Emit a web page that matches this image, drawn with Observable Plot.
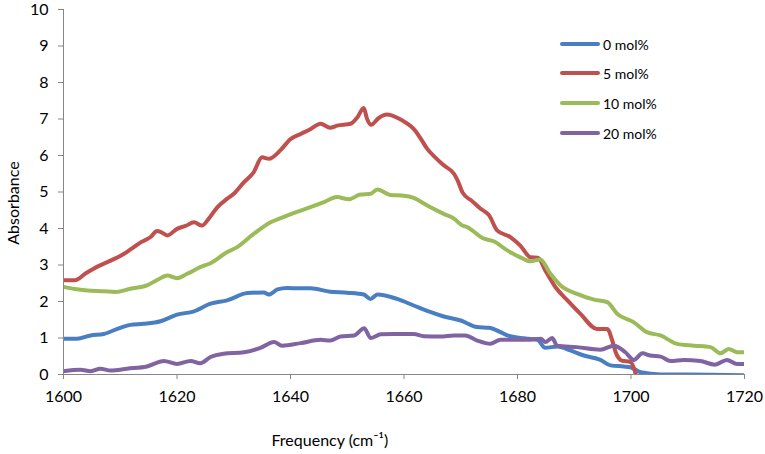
<!DOCTYPE html>
<html><head><meta charset="utf-8">
<script src="https://cdn.jsdelivr.net/npm/d3@7"></script>
<script src="https://cdn.jsdelivr.net/npm/@observablehq/plot@0.6"></script>
<style>
body{margin:0;background:#fff;}
#wrap{position:relative;width:765px;height:454px;font-family:Lato,"Open Sans",sans-serif;}
.leg{position:absolute;font-family:Lato,sans-serif;font-size:14px;color:#000;display:flex;align-items:center;white-space:nowrap;}
.leg span.sw{display:inline-block;width:40px;height:4px;border-radius:2px;margin-right:3px;}
.ttl{position:absolute;font-family:Lato,sans-serif;font-size:16px;color:#000;white-space:nowrap;line-height:20px;height:20px;}
</style>
</head><body>
<div id="wrap"></div>
<script>
const seriesNames = ["0 mol%", "5 mol%", "10 mol%", "20 mol%"];
const seriesColors = ["#4A7EC2", "#C0504D", "#9BBB59", "#8064A2"];
const xTicks = [1600, 1620, 1640, 1660, 1680, 1700, 1720];
const yTicks = [0, 1, 2, 3, 4, 5, 6, 7, 8, 9, 10];
const xTitle = "Frequency (cm⁻¹)";
const yTitle = "Absorbance";

const f0 = [1600,1602.4,1604.8,1607.1,1610,1611.8,1614.1,1617.1,1620,1623,1625.9,1628.8,1632.4,1635.3,1636.2,1637.7,1639.4,1641.5,1643.5,1647,1650,1652.9,1654.1,1655.3,1658.8,1661.7,1664.1,1667,1670,1672.9,1675,1677,1678.2,1680.5,1683.5,1684.9,1687,1689.3,1691.7,1694.6,1696.4,1698.7,1699.9,1701.7,1705.2,1710,1720];
const a0 = [0.98,0.98,1.07,1.11,1.28,1.36,1.39,1.46,1.64,1.73,1.94,2.03,2.23,2.25,2.19,2.33,2.37,2.36,2.36,2.27,2.24,2.19,2.07,2.19,2.07,1.89,1.74,1.59,1.48,1.3,1.28,1.16,1.07,1.0,0.95,0.73,0.77,0.66,0.52,0.4,0.25,0.22,0.2,0.06,0.0,0.0,-0.02];

const f5 = [1600,1602,1604,1605.3,1608.3,1610.6,1612,1613.6,1615.3,1616.5,1617.2,1618.3,1620,1621.5,1623,1624.4,1625.5,1627.1,1628.8,1630,1631.8,1633.5,1635,1636.2,1638.2,1640,1641.8,1643.5,1645.3,1647,1648.2,1650.6,1651.8,1652.9,1653.5,1654.2,1655.5,1657,1659,1660.5,1661.7,1663,1664.1,1665.5,1667,1668.8,1669.5,1670.3,1672,1673.5,1675,1676.4,1678.8,1680.5,1682.3,1683.6,1684.9,1686.7,1688.8,1691.1,1694,1695.8,1696.7,1697.3,1698.4,1699.9,1700.8,1701.1];
const a5 = [2.58,2.58,2.78,2.9,3.12,3.3,3.45,3.62,3.76,3.93,3.9,3.81,3.99,4.07,4.17,4.08,4.25,4.58,4.81,4.95,5.27,5.54,5.95,5.91,6.14,6.45,6.59,6.72,6.87,6.76,6.82,6.87,7.05,7.3,7.0,6.84,7.02,7.12,7.02,6.88,6.73,6.45,6.18,5.95,5.73,5.5,5.3,4.99,4.75,4.54,4.36,3.95,3.76,3.53,3.21,3.2,2.85,2.39,2.03,1.66,1.25,1.25,0.93,0.61,0.38,0.34,0.02,-0.2];

const f10 = [1600,1602,1604.2,1607.1,1609.2,1611.8,1614.7,1616.5,1618.3,1620,1621.8,1624.1,1625.9,1628.8,1630.6,1633.5,1636.5,1638.5,1641,1642.9,1645.9,1648.2,1650.3,1652.3,1654.1,1655.3,1657.6,1660,1661.7,1664.1,1667,1668.8,1670.3,1671.1,1674.1,1675.8,1678.2,1680.5,1682.3,1684,1685.8,1687.6,1690.5,1693.5,1695.8,1697.6,1700.5,1702.8,1705.2,1708.1,1711.1,1714,1715.8,1717.2,1718.7,1720];
const a10 = [2.4,2.34,2.3,2.28,2.26,2.35,2.44,2.59,2.71,2.64,2.76,2.94,3.05,3.35,3.49,3.85,4.17,4.3,4.45,4.55,4.72,4.86,4.8,4.93,4.95,5.07,4.92,4.9,4.84,4.63,4.4,4.27,4.08,4.04,3.72,3.65,3.4,3.21,3.1,3.15,2.76,2.44,2.21,2.05,1.98,1.66,1.43,1.16,1.07,0.84,0.79,0.75,0.58,0.7,0.61,0.61];

const f20 = [1600,1603,1604.8,1606.5,1608.3,1611.2,1614.7,1617.7,1620,1622.4,1624.1,1625.9,1628.2,1631.8,1634.7,1637.1,1638.5,1641.8,1645.3,1647,1648.8,1651.2,1653,1654.1,1655.9,1658.2,1661.7,1663.5,1666.4,1668.8,1670.8,1672.9,1675.2,1677,1679.3,1681.7,1684.1,1684.9,1686.1,1687,1690.5,1694.6,1697,1699,1700.5,1702,1703.4,1705.2,1707,1709.3,1712.2,1714.8,1716.9,1718.7,1720];
const a20 = [0.09,0.13,0.09,0.16,0.11,0.16,0.22,0.37,0.29,0.37,0.31,0.48,0.57,0.61,0.73,0.89,0.79,0.86,0.95,0.93,1.04,1.07,1.27,1.0,1.1,1.11,1.11,1.05,1.04,1.07,1.07,0.93,0.84,0.95,0.95,0.95,0.98,0.89,1.0,0.79,0.75,0.68,0.79,0.61,0.4,0.58,0.52,0.49,0.37,0.4,0.37,0.27,0.4,0.29,0.29];

const xs = [f0, f5, f10, f20];
const ys = [a0, a5, a10, a20];
const rows = [];
seriesNames.forEach((name, i) => {
  xs[i].forEach((f, j) => rows.push({series: name, f, a: ys[i][j]}));
});

const axisColor = "#868686";
const chart = Plot.plot({
  width: 765, height: 454,
  marginLeft: 63, marginRight: 21, marginTop: 9, marginBottom: 80,
  style: {fontFamily: "Lato, 'Open Sans', sans-serif", fontSize: "16px", color: "#000", background: "#fff"},
  x: {domain: [1600, 1720], ticks: xTicks},
  y: {domain: [0, 10], ticks: yTicks},
  color: {domain: seriesNames, range: seriesColors},
  marks: [
    Plot.line(rows, {x: "f", y: "a", z: "series", stroke: "series", strokeWidth: 4, curve: "monotone-x", clip: true, strokeLinejoin: "round", strokeLinecap: "round"}),
    Plot.ruleY([0], {stroke: axisColor, strokeWidth: 1}),
    Plot.ruleX([1600], {stroke: axisColor, strokeWidth: 1}),
    Plot.axisX({ticks: xTicks, tickSize: 5, tickPadding: 11, stroke: axisColor, label: null, tickFormat: d => String(d), fontSize: 16}),
    Plot.axisY({ticks: yTicks, tickSize: 5, tickPadding: 10, stroke: axisColor, label: null, fontSize: 16})
  ]
});
const wrap = document.getElementById("wrap");
wrap.appendChild(chart);

const xt = document.createElement("div");
xt.className = "ttl";
xt.textContent = xTitle;
wrap.appendChild(xt);
xt.style.left = (330 - xt.offsetWidth / 2) + "px";
xt.style.top = (440 - 10) + "px";

const yt = document.createElement("div");
yt.className = "ttl";
yt.textContent = yTitle;
wrap.appendChild(yt);
yt.style.left = (12 - yt.offsetWidth / 2) + "px";
yt.style.top = (203 - 10) + "px";
yt.style.transform = "rotate(-90deg)";

const legTops = [44, 73, 103, 133];
seriesNames.forEach((name, i) => {
  const d = document.createElement("div");
  d.className = "leg";
  d.style.left = "560px";
  d.style.top = (legTops[i] - 9) + "px";
  d.style.height = "18px";
  d.innerHTML = `<span class="sw" style="background:${seriesColors[i]}"></span>${name}`;
  wrap.appendChild(d);
});
</script>
</body></html>
